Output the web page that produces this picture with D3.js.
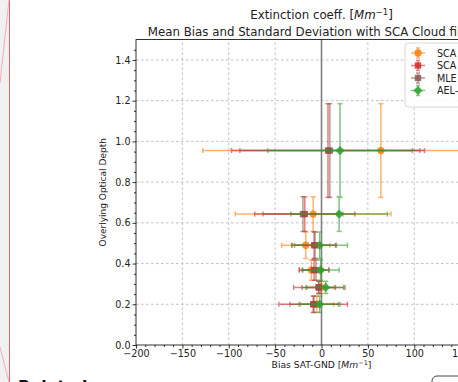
<!DOCTYPE html>
<html>
<head>
<meta charset="utf-8">
<script src="https://cdn.jsdelivr.net/npm/d3@7"></script>
<style>
  body { margin: 0; background: #fff; overflow: hidden; }
  svg { display: block; font-family: "DejaVu Sans", sans-serif; }
</style>
</head>
<body>
<svg id="chart" width="458" height="382"></svg>
<script>
// Overlying optical depth bins (bin centre and spread)
const depthBins   = [0.955, 0.643, 0.49, 0.368, 0.283, 0.2];
const depthSpread = [0.23, 0.085, 0.065, 0.05, 0.03, 0.04];

// Mean bias and standard deviation of extinction per retrieval
const seriesNames  = ["SCA", "SCA mid-bin", "MLE", "AEL-PRO"];
const seriesColors = ["#ff7f0e", "#d62728", "#8c564b", "#2ca02c"];
const seriesShapes = ["circle", "square", "square", "diamond"];
const biasSCA    = [64, -9, -17, -11, -1, -5];
const stdSCA     = [192, 84, 26, 13, 15, 18];
const biasSCAMid = [7, -18, -8, -8, -3, -9];
const stdSCAMid  = [104, 54, 24, 16, 27, 37];
const biasMLE    = [9, -20, -7, -6, -3, -8];
const stdMLE     = [97, 43, 22, 14, 18, 26];
const biasAEL    = [20, 19, -2, -1, 4.5, -2];
const stdAEL     = [78, 52, 30, 20, 21, 22];

const xTicks = [-200, -150, -100, -50, 0, 50, 100, 150, 200];
const yTicks = [0.0, 0.2, 0.4, 0.6, 0.8, 1.0, 1.2, 1.4];

const series = [
  { bias: biasSCA,    std: stdSCA },
  { bias: biasSCAMid, std: stdSCAMid },
  { bias: biasMLE,    std: stdMLE },
  { bias: biasAEL,    std: stdAEL }
].map((s, i) => ({ ...s, name: seriesNames[i], color: seriesColors[i], shape: seriesShapes[i] }));

const svg = d3.select("#chart");
const W = 458, H = 382;

// page chrome: side strip and footer elements
svg.append("rect").attr("x", 0).attr("y", 0).attr("width", 9).attr("height", H).attr("fill", "#f1f1f1");
svg.append("line").attr("x1", 9.5).attr("x2", 9.5).attr("y1", 0).attr("y2", H)
  .attr("stroke", "#e06666").attr("stroke-width", 1);
svg.append("line").attr("x1", 9).attr("y1", 0).attr("x2", 0).attr("y2", 83)
  .attr("stroke", "#f0a0a0").attr("stroke-width", 0.8);
svg.append("line").attr("x1", 0).attr("y1", 347).attr("x2", 9).attr("y2", 382)
  .attr("stroke", "#f0a0a0").attr("stroke-width", 0.8);
svg.append("text").attr("x", 18).attr("y", 392).attr("font-size", 16).attr("font-weight", "bold")
  .attr("fill", "#111").text("Related");
svg.append("rect").attr("x", 432).attr("y", 376).attr("width", 60).attr("height", 30).attr("rx", 5)
  .attr("fill", "#fff").attr("stroke", "#444").attr("stroke-width", 1);

// axes geometry
const x = d3.scaleLinear().domain([-200, 200]).range([136, 507]);
const y = d3.scaleLinear().domain([0, 1.5]).range([345, 39.6]);
const [x0, x1] = x.range();
const [yb, yt] = y.range();

// grid
const grid = svg.append("g").attr("stroke", "#b0b0b0").attr("stroke-width", 0.8)
  .attr("stroke-dasharray", "2.5,2.5");
xTicks.filter(v => v > -200 && v < 200).forEach(v => {
  grid.append("line").attr("x1", x(v)).attr("x2", x(v)).attr("y1", yb).attr("y2", yt);
});
yTicks.filter(v => v > 0).forEach(v => {
  grid.append("line").attr("x1", x0).attr("x2", x1).attr("y1", y(v)).attr("y2", y(v));
});

// zero-bias reference line
svg.append("line").attr("x1", x(0)).attr("x2", x(0)).attr("y1", yb).attr("y2", yt)
  .attr("stroke", "#808080").attr("stroke-width", 1.6);

// error bars and markers
const plot = svg.append("g");
const cap = 2.5;
const rhombus = { draw(ctx, size) { const r = Math.sqrt(size / 2); ctx.moveTo(0, -r); ctx.lineTo(r, 0); ctx.lineTo(0, r); ctx.lineTo(-r, 0); ctx.closePath(); } };
const symbolFor = {
  circle: d3.symbol().type(d3.symbolCircle).size(42),
  square: d3.symbol().type(d3.symbolSquare).size(40),
  diamond: d3.symbol().type(rhombus).size(42)
};
series.forEach(s => {
  const g = plot.append("g");
  const lines = g.append("g").attr("stroke", s.color).attr("stroke-width", 1.5).attr("opacity", 0.6);
  depthBins.forEach((d, i) => {
    const cx = x(s.bias[i]), cy = y(d);
    const xl = x(s.bias[i] - s.std[i]), xr = x(s.bias[i] + s.std[i]);
    const yu = y(d + depthSpread[i]), yl = y(d - depthSpread[i]);
    lines.append("line").attr("x1", xl).attr("x2", xr).attr("y1", cy).attr("y2", cy);
    lines.append("line").attr("x1", cx).attr("x2", cx).attr("y1", yu).attr("y2", yl);
    [xl, xr].forEach(xx => lines.append("line").attr("x1", xx).attr("x2", xx).attr("y1", cy - cap).attr("y2", cy + cap));
    [yu, yl].forEach(yy => lines.append("line").attr("x1", cx - cap).attr("x2", cx + cap).attr("y1", yy).attr("y2", yy));
  });
  g.selectAll("path.pt").data(depthBins).join("path")
    .attr("transform", (d, i) => `translate(${x(s.bias[i])},${y(d)})`)
    .attr("d", symbolFor[s.shape]())
    .attr("fill", s.color).attr("opacity", 0.85);
});

// axes
const xAxis = svg.append("g").attr("transform", `translate(0,${yb})`)
  .call(d3.axisBottom(x).tickValues(xTicks).tickSize(3.5).tickPadding(2).tickFormat(d3.format("d")));
const xMinor = svg.append("g").attr("transform", `translate(0,${yb})`)
  .call(d3.axisBottom(x).tickValues(d3.range(-200, 201, 10).filter(v => v % 50 !== 0)).tickSize(2).tickFormat(""));
const yAxis = svg.append("g").attr("transform", `translate(${x0},0)`)
  .call(d3.axisLeft(y).tickValues(yTicks).tickSize(3.5).tickPadding(2).tickFormat(d3.format(".1f")));
const yMinor = svg.append("g").attr("transform", `translate(${x0},0)`)
  .call(d3.axisLeft(y).tickValues(d3.range(0, 1.5, 0.05).map(v => +v.toFixed(2)).filter(v => Math.round(v * 100) % 20 !== 0)).tickSize(2).tickFormat(""));
[xAxis, xMinor, yAxis, yMinor].forEach(a => {
  a.select(".domain").remove();
  a.selectAll("line").attr("stroke", "#000").attr("stroke-width", 0.8);
  a.selectAll("text").attr("font-family", "DejaVu Sans").attr("font-size", 9.6).attr("fill", "#222");
});

// frame
svg.append("rect").attr("x", x0).attr("y", yt).attr("width", x1 - x0).attr("height", yb - yt)
  .attr("fill", "none").attr("stroke", "#000").attr("stroke-width", 0.8);

// legend
const lg = svg.append("g").attr("transform", "translate(405,43)");
lg.append("rect").attr("width", 120).attr("height", 64).attr("rx", 3)
  .attr("fill", "#fff").attr("fill-opacity", 0.85).attr("stroke", "#d0d0d0").attr("stroke-width", 0.8);
series.forEach((s, i) => {
  const row = lg.append("g").attr("transform", `translate(13,${10 + i * 12.5})`);
  const hl = row.append("g").attr("stroke", s.color).attr("stroke-width", 1.5).attr("opacity", 0.6);
  hl.append("line").attr("x1", -7).attr("x2", 7).attr("y1", 0).attr("y2", 0);
  hl.append("line").attr("x1", 0).attr("x2", 0).attr("y1", -5).attr("y2", 5);
  hl.append("line").attr("x1", -2).attr("x2", 2).attr("y1", -5).attr("y2", -5);
  hl.append("line").attr("x1", -2).attr("x2", 2).attr("y1", 5).attr("y2", 5);
  row.append("path").attr("d", symbolFor[s.shape]()).attr("fill", s.color).attr("opacity", 0.85);
  row.append("text").attr("x", 19).attr("y", 3.5).attr("font-size", 9.6).attr("fill", "#222").text(s.name);
});

// titles and axis labels
const cx = (x0 + x1) / 2;
const t1 = svg.append("text").attr("x", cx).attr("y", 19).attr("text-anchor", "middle")
  .attr("font-size", 11.8).attr("fill", "#222");
t1.append("tspan").text("Extinction coeff. [");
t1.append("tspan").attr("font-style", "italic").text("Mm");
t1.append("tspan").attr("font-size", 8.4).attr("dy", -4.5).text("−1");
t1.append("tspan").attr("dy", 4.5).text("]");
svg.append("text").attr("x", cx).attr("y", 36).attr("text-anchor", "middle")
  .attr("font-size", 11.8).attr("fill", "#222")
  .text("Mean Bias and Standard Deviation with SCA Cloud filtering");

const xl = svg.append("text").attr("x", cx).attr("y", 368).attr("text-anchor", "middle")
  .attr("font-size", 9.2).attr("fill", "#222");
xl.append("tspan").text("Bias SAT-GND [");
xl.append("tspan").attr("font-style", "italic").text("Mm");
xl.append("tspan").attr("font-size", 6.5).attr("dy", -3.5).text("−1");
xl.append("tspan").attr("dy", 3.5).text("]");

svg.append("text").attr("transform", `translate(106,${(yb + yt) / 2}) rotate(-90)`)
  .attr("text-anchor", "middle").attr("font-size", 9).attr("fill", "#222")
  .text("Overlying Optical Depth");
</script>
</body>
</html>
